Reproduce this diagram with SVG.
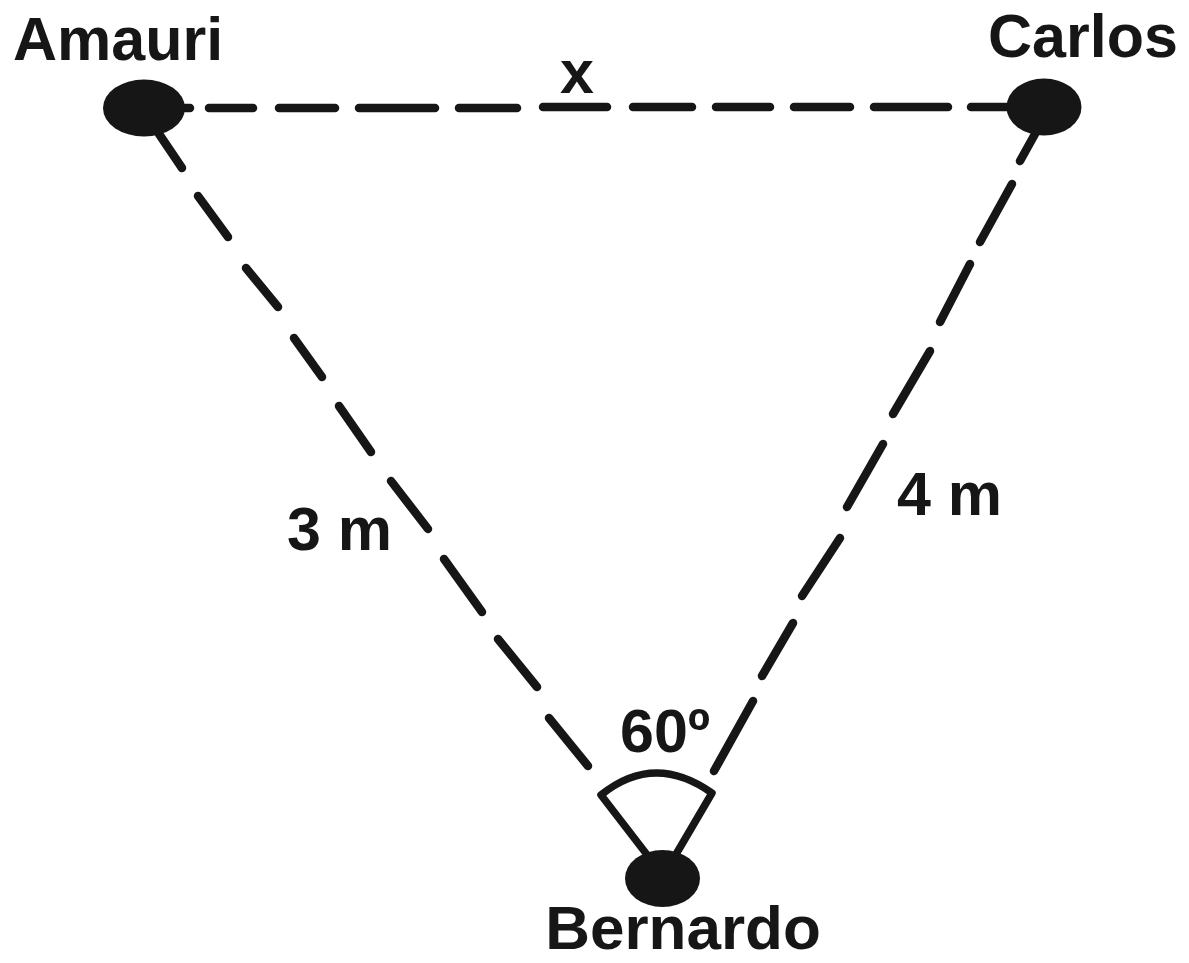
<svg xmlns="http://www.w3.org/2000/svg" width="1189" height="963" viewBox="0 0 1189 963">
<style>
.lbl{font-family:"Liberation Sans",Arial,sans-serif;font-weight:bold;font-size:61px;fill:#161616}
.dot{fill:#161616}
.edge line{stroke:#161616;stroke-width:8.5;stroke-linecap:round}
.wedge{fill:none;stroke:#161616;stroke-width:7.5;stroke-linejoin:round;stroke-linecap:round}
</style>
<rect width="1189" height="963" fill="#ffffff"/>
<g id="connectors">
<g id="edge-amauri-carlos" class="edge">
<line x1="185" y1="108" x2="190" y2="108"/>
<line x1="209" y1="108" x2="253" y2="108"/>
<line x1="279" y1="108" x2="335" y2="108"/>
<line x1="359" y1="108" x2="435" y2="108"/>
<line x1="459" y1="108" x2="517" y2="108"/>
<line x1="543" y1="107" x2="607" y2="107"/>
<line x1="633" y1="107" x2="692" y2="107"/>
<line x1="716" y1="107" x2="770" y2="107"/>
<line x1="794" y1="107" x2="850" y2="107"/>
<line x1="874" y1="107" x2="948" y2="107"/>
<line x1="971" y1="107" x2="1010" y2="107"/>
</g>
<g id="edge-amauri-bernardo" class="edge">
<line x1="155" y1="128" x2="182" y2="168"/>
<line x1="198" y1="196" x2="228" y2="237"/>
<line x1="246" y1="268" x2="278" y2="307"/>
<line x1="294" y1="338" x2="322" y2="377"/>
<line x1="339" y1="406" x2="371" y2="452"/>
<line x1="391" y1="481" x2="428" y2="529"/>
<line x1="444" y1="559" x2="482" y2="612"/>
<line x1="498" y1="639" x2="537" y2="687"/>
<line x1="549" y1="718" x2="588" y2="766"/>
</g>
<g id="edge-carlos-bernardo" class="edge">
<line x1="1040" y1="125" x2="1020" y2="161"/>
<line x1="1012" y1="184" x2="980" y2="242"/>
<line x1="970" y1="264" x2="940" y2="322"/>
<line x1="930" y1="351" x2="893" y2="414"/>
<line x1="883" y1="444" x2="847" y2="507"/>
<line x1="840" y1="538" x2="802" y2="596"/>
<line x1="793" y1="623" x2="762" y2="676"/>
<line x1="753" y1="701" x2="714" y2="771"/>
</g>
</g>
<g id="node-amauri">
<ellipse class="dot" cx="144" cy="108" rx="41" ry="28.5"/>
<text class="lbl" x="13" y="60">Amauri</text>
</g>
<g id="node-carlos">
<ellipse class="dot" cx="1044" cy="107" rx="37.5" ry="28.5"/>
<text class="lbl" x="988" y="57">Carlos</text>
</g>
<g id="node-bernardo">
<path class="wedge" d="M648,856 L601,795 Q654,752 712,793 L675,856"/>
<ellipse class="dot" cx="662.5" cy="878.5" rx="37.5" ry="28.5"/>
<text class="lbl" x="683" y="949" text-anchor="middle" style="font-size:62px">Bernardo</text>
</g>
<g id="labels">
<text class="lbl" x="577" y="93" text-anchor="middle">x</text>
<text class="lbl" x="287" y="550">3 m</text>
<text class="lbl" x="897" y="515">4 m</text>
<text class="lbl" x="620" y="752">60º</text>
</g>
</svg>
